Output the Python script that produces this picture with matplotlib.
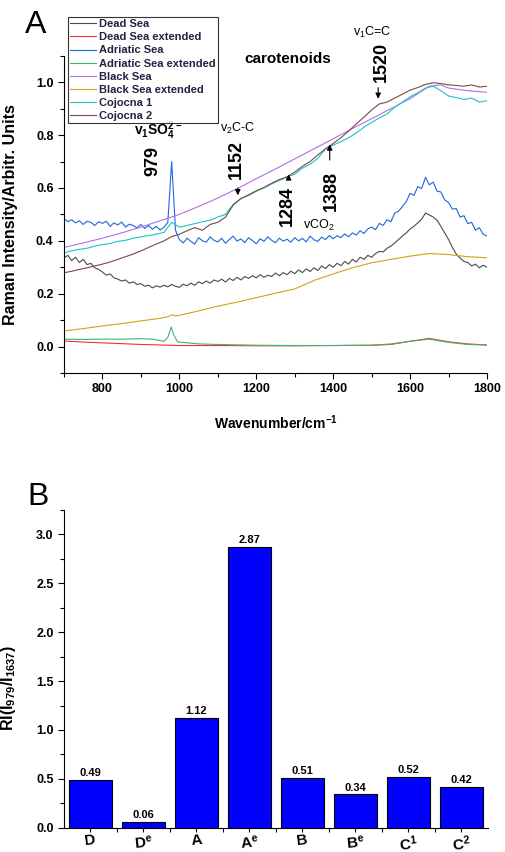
import matplotlib
matplotlib.use('Agg')
import matplotlib.pyplot as plt
from matplotlib.ticker import MultipleLocator, FixedLocator

plt.rcParams['font.family'] = ['Liberation Sans', 'DejaVu Sans']
plt.rcParams['mathtext.default'] = 'regular'

# ---- panel A data ----
wn10 = list(range(700, 1801, 10))
wn20 = list(range(700, 1801, 20))

dead_sea = [
    0.336, 0.345, 0.325, 0.338, 0.318, 0.330, 0.310, 0.315, 0.298, 0.292,
    0.282, 0.270, 0.275, 0.260, 0.255, 0.248, 0.252, 0.240, 0.245, 0.235,
    0.238, 0.228, 0.232, 0.222, 0.230, 0.225, 0.232, 0.226, 0.235, 0.228,
    0.224, 0.236, 0.230, 0.240, 0.232, 0.245, 0.238, 0.248, 0.240, 0.252,
    0.246, 0.255, 0.244, 0.258, 0.250, 0.262, 0.252, 0.265, 0.258, 0.268,
    0.260, 0.272, 0.262, 0.270, 0.265, 0.278, 0.268, 0.280, 0.272, 0.285,
    0.276, 0.290, 0.280, 0.294, 0.284, 0.298, 0.288, 0.305, 0.295, 0.310,
    0.300, 0.315, 0.306, 0.322, 0.312, 0.330, 0.320, 0.338, 0.330, 0.345,
    0.338, 0.352, 0.360, 0.358, 0.372, 0.380, 0.392, 0.405, 0.418, 0.430,
    0.445, 0.455, 0.468, 0.482, 0.505, 0.498, 0.490, 0.478, 0.455, 0.430,
    0.405, 0.375, 0.350, 0.335, 0.322, 0.318, 0.305, 0.312, 0.298, 0.308,
    0.300]

adriatic_sea = [
    0.485, 0.472, 0.480, 0.468, 0.476, 0.462, 0.474, 0.470, 0.458, 0.472,
    0.466, 0.474, 0.455, 0.468, 0.460, 0.471, 0.452, 0.463, 0.458, 0.449,
    0.462, 0.447, 0.458, 0.444, 0.455, 0.441, 0.452, 0.470, 0.700, 0.440,
    0.405, 0.392, 0.410, 0.398, 0.388, 0.412, 0.400, 0.395, 0.415, 0.402,
    0.396, 0.410, 0.391, 0.405, 0.418, 0.399, 0.407, 0.393, 0.412, 0.401,
    0.389, 0.408, 0.398, 0.415, 0.402, 0.393, 0.410, 0.399, 0.406, 0.395,
    0.412, 0.400, 0.409, 0.396, 0.418, 0.404, 0.398, 0.414, 0.405, 0.420,
    0.408, 0.419, 0.412, 0.426, 0.415, 0.430, 0.422, 0.438, 0.428, 0.445,
    0.452, 0.442, 0.466, 0.458, 0.480, 0.472, 0.505, 0.512, 0.530, 0.548,
    0.580, 0.572, 0.605, 0.598, 0.640, 0.612, 0.622, 0.588, 0.585, 0.555,
    0.545, 0.520, 0.522, 0.490, 0.495, 0.465, 0.470, 0.440, 0.450, 0.425,
    0.418]

cojocna1 = [
    0.355, 0.362, 0.368, 0.372, 0.380, 0.386, 0.390, 0.398, 0.402, 0.410,
    0.415, 0.420, 0.425, 0.432, 0.470, 0.452, 0.458, 0.465, 0.472, 0.478,
    0.490, 0.500, 0.538, 0.560, 0.575, 0.590, 0.600, 0.615, 0.628, 0.642,
    0.652, 0.675, 0.690, 0.712, 0.748, 0.762, 0.775, 0.790, 0.808, 0.830,
    0.848, 0.865, 0.880, 0.905, 0.925, 0.945, 0.960, 0.978, 0.985, 0.968,
    0.948, 0.942, 0.935, 0.940, 0.925, 0.930]

cojocna2 = [
    0.279, 0.285, 0.292, 0.298, 0.305, 0.312, 0.320, 0.330, 0.340, 0.350,
    0.362, 0.375, 0.388, 0.400, 0.416, 0.425, 0.438, 0.450, 0.440, 0.462,
    0.470, 0.490, 0.535, 0.560, 0.572, 0.588, 0.602, 0.618, 0.632, 0.642,
    0.660, 0.682, 0.700, 0.725, 0.748, 0.768, 0.790, 0.815, 0.842, 0.868,
    0.895, 0.918, 0.925, 0.940, 0.955, 0.970, 0.980, 0.992, 0.998, 0.995,
    0.990, 0.988, 0.985, 0.990, 0.982, 0.985]

wn_black = [700, 750, 800, 850, 900, 950, 1000, 1050, 1100, 1150, 1200, 1250,
            1300, 1350, 1400, 1450, 1500, 1550, 1600, 1650, 1680, 1700, 1750, 1800]
black_sea = [0.375, 0.392, 0.410, 0.430, 0.452, 0.476, 0.500, 0.530, 0.562, 0.597,
             0.635, 0.672, 0.710, 0.748, 0.786, 0.825, 0.862, 0.900, 0.938, 0.985,
             0.990, 0.978, 0.968, 0.962]

wn_black_ext = [700, 750, 800, 850, 900, 950, 970, 980, 990, 1000, 1050, 1100, 1150,
                1200, 1250, 1300, 1350, 1400, 1450, 1500, 1550, 1600, 1650, 1700,
                1750, 1800]
black_sea_ext = [0.059, 0.068, 0.078, 0.087, 0.097, 0.107, 0.113, 0.120, 0.116, 0.118,
                 0.135, 0.153, 0.168, 0.185, 0.202, 0.218, 0.250, 0.275, 0.298, 0.317,
                 0.330, 0.342, 0.352, 0.348, 0.340, 0.336]

wn_dead_ext = [700, 750, 800, 850, 900, 950, 1000, 1100, 1200, 1300, 1400, 1500,
               1550, 1600, 1650, 1700, 1750, 1800]
dead_sea_ext = [0.021, 0.017, 0.014, 0.011, 0.008, 0.006, 0.004, 0.004, 0.003, 0.003,
                0.004, 0.005, 0.008, 0.020, 0.031, 0.018, 0.010, 0.006]

wn_adr_ext = [700, 750, 800, 850, 900, 930, 960, 970, 979, 985, 995, 1050, 1100, 1200,
              1300, 1400, 1500, 1550, 1600, 1650, 1700, 1750, 1800]
adriatic_ext = [0.028, 0.027, 0.028, 0.028, 0.030, 0.028, 0.020, 0.035, 0.074, 0.045,
                0.018, 0.010, 0.008, 0.005, 0.004, 0.004, 0.005, 0.010, 0.020, 0.028,
                0.016, 0.008, 0.006]

# ---- panel B data ----
samples = ['D', 'D$^{e}$', 'A', 'A$^{e}$', 'B', 'B$^{e}$', 'C$^{1}$', 'C$^{2}$']
ratios = [0.49, 0.06, 1.12, 2.87, 0.51, 0.34, 0.52, 0.42]

fig = plt.figure(figsize=(5.05, 8.52), dpi=100)
ax = fig.add_axes([0.1267, 0.5622, 0.8377, 0.3723])
ax2 = fig.add_axes([0.1267, 0.0285, 0.8396, 0.3729])

lw = 0.8
ax.plot(wn10, dead_sea, color='#4a4a4a', lw=lw, label='Dead Sea')
ax.plot(wn_dead_ext, dead_sea_ext, color='#ff2a2a', lw=lw, label='Dead Sea extended')
ax.plot(wn10, adriatic_sea, color='#1f66dd', lw=lw, label='Adriatic Sea')
ax.plot(wn_adr_ext, adriatic_ext, color='#3cb371', lw=lw, label='Adriatic Sea extended')
ax.plot(wn_black, black_sea, color='#b070e8', lw=lw, label='Black Sea')
ax.plot(wn_black_ext, black_sea_ext, color='#d4a017', lw=lw, label='Black Sea extended')
ax.plot(wn20, cojocna1, color='#1cc4c4', lw=lw, label='Cojocna 1')
ax.plot(wn20, cojocna2, color='#7a4848', lw=lw, label='Cojocna 2')

ax.set_xlim(700, 1800)
ax.set_ylim(-0.1, 1.1)
ax.xaxis.set_major_locator(FixedLocator([800, 1000, 1200, 1400, 1600, 1800]))
ax.xaxis.set_minor_locator(MultipleLocator(100))
ax.yaxis.set_major_locator(FixedLocator([0.0, 0.2, 0.4, 0.6, 0.8, 1.0]))
ax.yaxis.set_minor_locator(MultipleLocator(0.1))
for a in (ax, ax2):
    a.spines['top'].set_visible(False)
    a.spines['right'].set_visible(False)
    a.tick_params(which='major', direction='out', length=4, width=0.8, labelsize=9)
    a.tick_params(which='minor', direction='out', length=3, width=0.8)
    for lab in a.get_xticklabels() + a.get_yticklabels():
        lab.set_fontweight('bold')

ax.set_xlabel('Wavenumber/cm$^{-1}$', fontsize=10, fontweight='bold')
ax.set_ylabel('Raman Intensity/Arbitr. Units', fontsize=11.5, fontweight='bold')
ax.xaxis.set_label_coords(0.5, -0.126)
ax.yaxis.set_label_coords(-0.109, 0.5)

leg = ax.legend(loc='upper left', bbox_to_anchor=(0.1347, 0.980),
                bbox_transform=fig.transFigure, fontsize=8, frameon=True,
                fancybox=False, edgecolor='black', handlelength=2.3,
                handletextpad=0.3, labelspacing=0.28, borderpad=0.2,
                borderaxespad=0)
leg.get_frame().set_linewidth(0.8)
for t in leg.get_texts():
    t.set_fontweight('bold')
    t.set_color('#222244')

ax.text(1283, 1.088, 'carotenoids', fontsize=11, fontweight='bold',
        ha='center', va='center')
ax.text(944, 0.815, 'v$_1$SO$_4^{2-}$', fontsize=10, fontweight='bold',
        ha='center', va='center')
ax.text(931, 0.703, '979', fontsize=13, fontweight='bold', rotation=90,
        ha='center', va='center')
ax.text(1152, 0.827, 'v$_2$C-C', fontsize=9, ha='center', va='center')
ax.text(1149, 0.709, '1152', fontsize=13, fontweight='bold', rotation=90,
        ha='center', va='center')
ax.text(1282, 0.531, '1284', fontsize=13, fontweight='bold', rotation=90,
        ha='center', va='center')
ax.text(1394, 0.588, '1388', fontsize=13, fontweight='bold', rotation=90,
        ha='center', va='center')
ax.text(1363, 0.458, 'vCO$_2$', fontsize=9, ha='center', va='center')
ax.text(1501, 1.19, 'v$_1$C=C', fontsize=9, ha='center', va='center')
ax.text(1526, 1.078, '1520', fontsize=13, fontweight='bold', rotation=90,
        ha='center', va='center')

arrow = dict(arrowstyle='-|>', color='black', lw=0.8, mutation_scale=8)
ax.annotate('', xy=(1152, 0.562), xytext=(1152, 0.610), arrowprops=arrow)
ax.annotate('', xy=(1284, 0.662), xytext=(1284, 0.620), arrowprops=arrow)
ax.annotate('', xy=(1391, 0.775), xytext=(1391, 0.695), arrowprops=arrow)
ax.annotate('', xy=(1517, 0.927), xytext=(1517, 0.990), arrowprops=arrow,
            annotation_clip=False)

fig.text(25 / 505, 1 - 10 / 852, 'A', fontsize=23, ha='left', va='top')

# ---- panel B ----
pos = list(range(1, len(samples) + 1))
bars = ax2.bar(pos, ratios, width=0.8, color='#0000ff', edgecolor='black', linewidth=0.8)
for p, r in zip(pos, ratios):
    ax2.text(p, r + 0.02, f'{r:.2f}', fontsize=8, fontweight='bold',
             ha='center', va='bottom')
ax2.set_xlim(0.5, 8.5)
ax2.set_ylim(0, 3.25)
ax2.yaxis.set_major_locator(MultipleLocator(0.5))
ax2.yaxis.set_minor_locator(MultipleLocator(0.25))
ax2.set_xticks(pos)
ax2.set_xticklabels(samples, fontsize=11, fontweight='bold', rotation=6)
ax2.xaxis.set_minor_locator(FixedLocator([1.5, 2.5, 3.5, 4.5, 5.5, 6.5, 7.5]))
ax2.tick_params(axis='x', which='major', length=3, pad=1)
for lab in ax2.get_yticklabels():
    lab.set_fontweight('bold')
ax2.set_ylabel('RI(I$_{979}$/I$_{1637}$)', fontsize=11.5, fontweight='bold')
ax2.yaxis.set_label_coords(-0.108, 0.44)

fig.text(27 / 505, 1 - 482 / 852, 'B', fontsize=23, ha='left', va='top')

fig.savefig('out.png', dpi=100)
